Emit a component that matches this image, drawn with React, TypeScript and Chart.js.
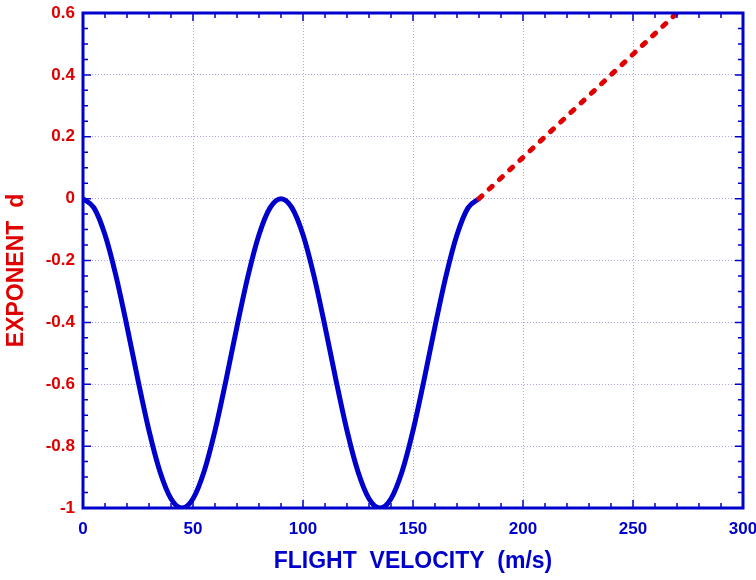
import React, { useEffect, useRef } from "react";
import { Chart, registerables } from "chart.js";

Chart.register(...registerables);

// Blue curve
const blueX = [0, 5, 10, 15, 20, 25, 30, 35, 40, 45, 50, 55, 60, 65, 70, 75, 80, 85, 90,
  95, 100, 105, 110, 115, 120, 125, 130, 135, 140, 145, 150, 155, 160, 165, 170, 175, 180];
const blueY = [0, -0.03, -0.117, -0.25, -0.413, -0.587, -0.75, -0.883, -0.97, -1, -0.97, -0.883, -0.75, -0.587, -0.413, -0.25, -0.117, -0.03, 0,
  -0.03, -0.117, -0.25, -0.413, -0.587, -0.75, -0.883, -0.97, -1, -0.97, -0.883, -0.75, -0.587, -0.413, -0.25, -0.117, -0.03, 0];

// Red dashed line
const redX = [180, 270];
const redY = [0, 0.6];

const xMin = 0, xMax = 300, xStep = 50, xMinor = 10;
const yMin = -1, yMax = 0.6, yStep = 0.2, yMinor = 0.05;

const xTitle = "FLIGHT  VELOCITY  (m/s)";
const yTitle = "EXPONENT  d";

const BLUE = "#0000cc";
const RED = "#e00000";
const FONT = "Liberation Sans, Arial, sans-serif";

const frame = {
  id: "frame",
  afterDraw(chart: any) {
    const { ctx, chartArea: a, scales } = chart;
    const xs = scales.x, ys = scales.y;
    ctx.save();
    ctx.strokeStyle = BLUE;
    ctx.lineWidth = 1.5;
    ctx.beginPath();
    const nx = Math.round((xMax - xMin) / xMinor);
    for (let i = 0; i <= nx; i++) {
      const v = xMin + i * xMinor;
      const px = xs.getPixelForValue(v);
      const len = Math.abs(v % xStep) < 1e-6 ? 8 : 5;
      ctx.moveTo(px, a.bottom); ctx.lineTo(px, a.bottom - len);
      ctx.moveTo(px, a.top); ctx.lineTo(px, a.top + len);
    }
    const ny = Math.round((yMax - yMin) / yMinor);
    for (let i = 0; i <= ny; i++) {
      const v = yMin + i * yMinor;
      const py = ys.getPixelForValue(v);
      const r = Math.abs((v - yMin) / yStep - Math.round((v - yMin) / yStep));
      const len = r < 1e-6 ? 8 : 5;
      ctx.moveTo(a.left, py); ctx.lineTo(a.left + len, py);
      ctx.moveTo(a.right, py); ctx.lineTo(a.right - len, py);
    }
    ctx.stroke();
    ctx.lineWidth = 3;
    ctx.strokeRect(a.left, a.top, a.right - a.left, a.bottom - a.top);

    // axis titles
    ctx.font = `bold 23px ${FONT}`;
    ctx.textAlign = "center";
    ctx.textBaseline = "middle";
    ctx.fillStyle = BLUE;
    ctx.fillText(xTitle, (a.left + a.right) / 2, a.bottom + 54);
    ctx.fillStyle = RED;
    ctx.translate(17, (a.top + a.bottom) / 2 + 10);
    ctx.rotate(-Math.PI / 2);
    ctx.fillText(yTitle, 0, 0);
    ctx.restore();
  },
};

export default function App() {
  const ref = useRef<HTMLCanvasElement>(null);
  useEffect(() => {
    const chart = new Chart(ref.current!, {
      type: "scatter",
      data: {
        datasets: [
          {
            data: blueX.map((x, i) => ({ x, y: blueY[i] })),
            showLine: true,
            borderColor: BLUE,
            borderWidth: 5,
            pointRadius: 0,
            cubicInterpolationMode: "monotone",
            order: 2,
          },
          {
            data: redX.map((x, i) => ({ x, y: redY[i] })),
            showLine: true,
            borderColor: RED,
            borderWidth: 5,
            borderDash: [4, 10],
            borderCapStyle: "round",
            pointRadius: 0,
            order: 1,
          },
        ],
      },
      options: {
        animation: false,
        responsive: false,
        maintainAspectRatio: false,
        layout: { padding: { top: 13, right: 13, left: 0, bottom: 0 } },
        plugins: { legend: { display: false }, tooltip: { enabled: false } },
        scales: {
          x: {
            type: "linear",
            min: xMin,
            max: xMax,
            afterFit(s: any) { s.height = 72; s.paddingLeft = 0; s.paddingRight = 0; },
            ticks: {
              stepSize: xStep,
              color: BLUE,
              padding: 11,
              font: { family: FONT, size: 17, weight: "bold" },
            },
            grid: { color: "#a8a8f0", lineWidth: 1, drawTicks: false },
            border: { display: false, dash: [1, 2] },
          },
          y: {
            type: "linear",
            min: yMin,
            max: yMax,
            afterFit(s: any) { s.width = 83; s.paddingTop = 0; s.paddingBottom = 0; },
            ticks: {
              stepSize: yStep,
              color: RED,
              padding: 8,
              font: { family: FONT, size: 17, weight: "bold" },
              callback: (v: any) => String(Math.round(Number(v) * 10) / 10),
            },
            grid: { color: "#a8a8f0", lineWidth: 1, drawTicks: false },
            border: { display: false, dash: [1, 2] },
          },
        },
      },
      plugins: [frame],
    } as any);
    return () => chart.destroy();
  }, []);
  return (
    <div style={{ position: "fixed", left: 0, top: 0, width: 756, height: 580, background: "#fff" }}>
      <canvas ref={ref} width={756} height={580} style={{ display: "block" }} />
    </div>
  );
}
